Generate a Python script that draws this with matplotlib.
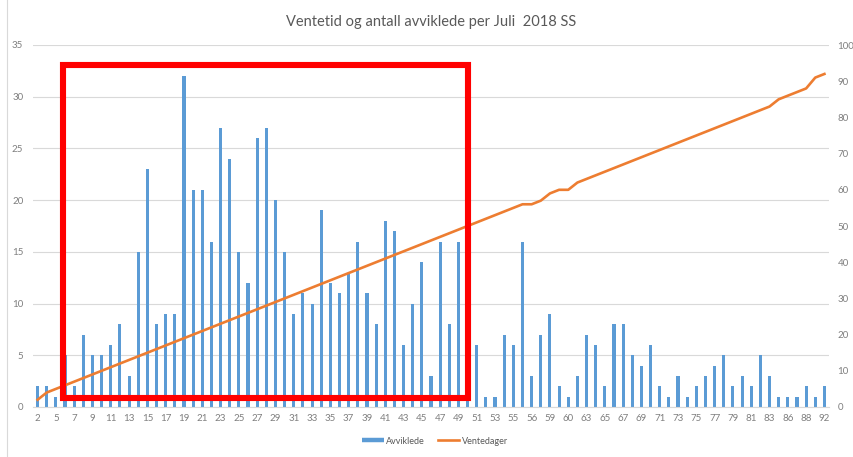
import matplotlib
matplotlib.use("Agg")
import matplotlib.pyplot as plt
from matplotlib.lines import Line2D
from matplotlib.patches import Rectangle
import numpy as np

plt.rcParams["font.family"] = ["Lato", "DejaVu Sans"]

# ─── data ────────────────────────────────────────────────────────────────────
# x categories (waiting days); the orange line plots the same values
ventedager = [2, 4] + list(range(5, 56)) + [56, 56, 57, 59, 60, 60, 62] \
    + list(range(63, 84)) + [85, 86, 87, 88, 91, 92]

avviklede = [2, 2, 1, 5, 2, 7, 5, 5, 6, 8,
             3, 15, 23, 8, 9, 9, 32, 21, 21, 16,
             27, 24, 15, 12, 26, 27, 20, 15, 9, 11,
             10, 19, 12, 11, 13, 16, 11, 8, 18, 17,
             6, 10, 14, 3, 16, 8, 16, 9, 6, 1,
             1, 7, 6, 16, 3, 7, 9, 2, 1, 3,
             7, 6, 2, 8, 8, 5, 4, 6, 2, 1,
             3, 1, 2, 3, 4, 5, 2, 3, 2, 5,
             3, 1, 1, 1, 2, 1, 2]

title = "Ventetid og antall avviklede per Juli  2018 SS"
left_ticks = list(range(0, 36, 5))
right_ticks = list(range(0, 101, 10))

BLUE = "#5B9BD5"
ORANGE = "#ED7D31"
GRAY_TXT = "#595959"
TICK_TXT = "#7F7F7F"
GRID = "#D9D9D9"

# ─── figure ──────────────────────────────────────────────────────────────────
W, H = 854, 457
fig = plt.figure(figsize=(W / 100, H / 100), dpi=100)
ax = fig.add_axes([33 / W, 1 - 407 / H, (829 - 33) / W, (407 - 45) / H])
ax2 = ax.twinx()

x = np.arange(len(avviklede))
ax.bar(x, avviklede, width=0.34, color=BLUE, zorder=2)
ax2.plot(x, ventedager, color=ORANGE, linewidth=1.9, zorder=3)

ax.set_xlim(-0.5, len(x) - 0.5)
ax.set_ylim(0, 35)
ax2.set_ylim(0, 100)
ax.set_yticks(left_ticks)
ax2.set_yticks(right_ticks)
ax.set_xticks(x[::2])
ax.set_xticklabels([str(v) for v in ventedager[::2]])

ax.grid(True, axis="y", color=GRID, linewidth=0.8, zorder=0)
ax.set_axisbelow(True)
for a in (ax, ax2):
    for s in a.spines.values():
        s.set_visible(False)
ax.spines["bottom"].set_visible(True)
ax.spines["bottom"].set_color(GRID)
ax.spines["bottom"].set_linewidth(0.8)

ax.tick_params(axis="both", length=0, colors=TICK_TXT, labelsize=7)
ax.tick_params(axis="y", pad=7)
ax.tick_params(axis="x", pad=5)
ax2.tick_params(axis="y", length=0, colors=TICK_TXT, labelsize=7, pad=6)

fig.text(431 / W, 1 - 22 / H, title, ha="center", va="center",
         fontsize=10.5, color=GRAY_TXT)

handles = [Line2D([], [], color=BLUE, linewidth=3.2, solid_capstyle="butt"),
           Line2D([], [], color=ORANGE, linewidth=1.9)]
fig.legend(handles, ["Avviklede", "Ventedager"], loc="center",
           bbox_to_anchor=(435 / W, 1 - 441 / H), ncol=2, frameon=False,
           fontsize=6.5, handlelength=2.4, handletextpad=0.3,
           columnspacing=1.4, labelcolor=GRAY_TXT)

# chart-area border on the left and the red highlight box
fig.add_artist(Line2D([7 / W, 7 / W], [0, 1], color=GRID, linewidth=0.8))
fig.add_artist(Rectangle((63 / W, 1 - 398 / H), (468.5 - 63) / W, (398 - 64.5) / H,
                         transform=fig.transFigure, fill=False,
                         edgecolor="#FF0000", linewidth=4.4, joinstyle="miter",
                         zorder=10))

fig.savefig("out.png", dpi=100)
